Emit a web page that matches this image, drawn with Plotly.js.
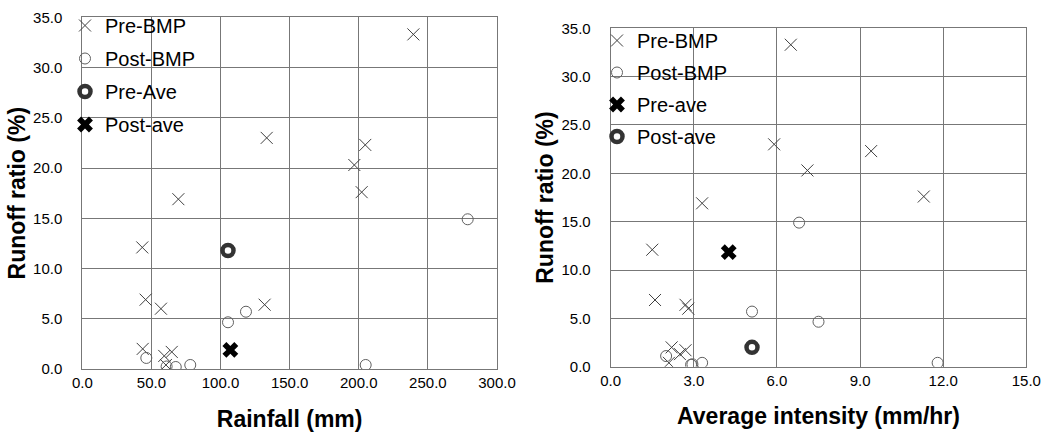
<!DOCTYPE html>
<html>
<head>
<meta charset="utf-8">
<script src="https://cdn.plot.ly/plotly-3.0.1.min.js"></script>
<style>
html,body{margin:0;padding:0;background:#fff;}
#chart{width:1043px;height:439px;}
</style>
</head>
<body>
<div id="chart"></div>
<script>
// ---- data ----
// Pre-BMP events
var rainPre    = [239.5, 133.4, 204.7, 196.8, 202.1, 69.5, 43.4, 45.8, 131.9, 56.9, 43.7, 64.7, 59.3, 60.5];
var intensPre  = [6.5, 5.9, 9.4, 7.1, 11.3, 3.3, 1.5, 1.6, 2.7, 2.8, 2.2, 2.7, 2.5, 2.1];
var ratioPre   = [33.3, 23.0, 22.3, 20.3, 17.6, 16.9, 12.1, 6.9, 6.4, 6.0, 2.0, 1.7, 1.3, 0.4];
// Post-BMP events
var rainPost   = [46.3, 61.0, 67.6, 78.1, 105.4, 118.4, 278.8, 205.0];
var intensPost = [2.0, 2.95, 2.9, 3.3, 7.5, 5.1, 6.8, 11.8];
var ratioPost  = [1.1, 0.25, 0.2, 0.4, 4.65, 5.7, 14.9, 0.4];
// Averages
var rainPreAve = [105.4],  ratioPreAveL = [11.8];
var rainPostAve = [107.1], ratioPostAveL = [1.9];
var intensPreAve = [4.26], ratioPreAveR = [11.85];
var intensPostAve = [5.1], ratioPostAveR = [2.0];
// axis ticks
var xTicksL = [0, 50, 100, 150, 200, 250, 300];
var xTicksR = [0, 3, 6, 9, 12, 15];
var yTicks  = [0, 5, 10, 15, 20, 25, 30, 35];

var W = 1043, H = 439;
function fx(p){ return p / W; }
function fy(p){ return (H - p) / H; }

var crossM  = {symbol:'x-thin-open', size:12, color:'#404040', line:{width:1, color:'#404040'}};
var circM   = {symbol:'circle-open', size:11, color:'#606060', line:{width:1, color:'#606060'}};
var ringM   = {symbol:'circle-open', size:11, color:'#333333', line:{width:4.5, color:'#333333'}};
var boldXM  = {symbol:'x', size:14, color:'#000000', line:{width:0}};

var traces = [
  {x: rainPre, y: ratioPre, type:'scatter', mode:'markers', name:'Pre-BMP', marker: crossM, xaxis:'x', yaxis:'y', legend:'legend', legendgroup:'a1'},
  {x: rainPost, y: ratioPost, type:'scatter', mode:'markers', name:'Post-BMP', marker: circM, xaxis:'x', yaxis:'y', legend:'legend', legendgroup:'a2'},
  {x: rainPreAve, y: ratioPreAveL, type:'scatter', mode:'markers', name:'Pre-Ave', marker: ringM, xaxis:'x', yaxis:'y', legend:'legend', legendgroup:'a3'},
  {x: rainPostAve, y: ratioPostAveL, type:'scatter', mode:'markers', name:'Post-ave', marker: boldXM, xaxis:'x', yaxis:'y', legend:'legend', legendgroup:'a4'},

  {x: intensPre, y: ratioPre, type:'scatter', mode:'markers', name:'Pre-BMP', marker: crossM, xaxis:'x2', yaxis:'y2', legend:'legend2', legendgroup:'b1'},
  {x: intensPost, y: ratioPost, type:'scatter', mode:'markers', name:'Post-BMP', marker: circM, xaxis:'x2', yaxis:'y2', legend:'legend2', legendgroup:'b2'},
  {x: intensPreAve, y: ratioPreAveR, type:'scatter', mode:'markers', name:'Pre-ave', marker: boldXM, xaxis:'x2', yaxis:'y2', legend:'legend2', legendgroup:'b3'},
  {x: intensPostAve, y: ratioPostAveR, type:'scatter', mode:'markers', name:'Post-ave', marker: ringM, xaxis:'x2', yaxis:'y2', legend:'legend2', legendgroup:'b4'}
];

var tickFont = {family:'"Liberation Sans", Arial, sans-serif', size:15, color:'#000'};
var titleFont = {family:'"Liberation Sans", Arial, sans-serif', size:23, color:'#000', weight:'bold'};
var gridC = '#777777';

function xAxis(domain, rng, ticks, title, anchor){
  return {domain: domain, range: rng, tickvals: ticks, ticktext: ticks.map(function(v){return v.toFixed(1);}),
    showgrid:true, gridcolor:gridC, gridwidth:1, zeroline:false, showline:true, linecolor:gridC, linewidth:1, mirror:true,
    ticks:'', tickfont: tickFont, anchor: anchor, automargin:false,
    title:{text:title, font:titleFont, standoff:20}};
}
function yAxis(domain, title, anchor){
  return {domain: domain, range:[0,35], tickvals: yTicks, ticktext: yTicks.map(function(v){return v.toFixed(1);}),
    showgrid:true, gridcolor:gridC, gridwidth:1, zeroline:false, showline:true, linecolor:gridC, linewidth:1, mirror:true,
    ticks:'outside', ticklen:16, tickcolor:'rgba(0,0,0,0)', tickfont: tickFont, anchor: anchor, automargin:false,
    title:{text:title, font:titleFont, standoff:1}};
}

var legFont = {family:'"Liberation Sans", Arial, sans-serif', size:20, color:'#000'};

var layout = {
  width: W, height: H,
  margin:{l:0, r:0, t:0, b:0},
  paper_bgcolor:'#fff', plot_bgcolor:'#fff',
  showlegend:true,
  xaxis:  xAxis([fx(82.3), fx(497)], [0,300], xTicksL, 'Rainfall (mm)', 'y'),
  yaxis:  yAxis([fy(369), fy(17.3)], 'Runoff ratio (%)', 'x'),
  xaxis2: xAxis([fx(610.7), fx(1026.3)], [0,15], xTicksR, 'Average intensity (mm/hr)', 'y2'),
  yaxis2: yAxis([fy(366.7), fy(28.3)], 'Runoff ratio (%)', 'x2'),
  legend: {x: fx(65), y: fy(6), xanchor:'left', yanchor:'top', bgcolor:'rgba(0,0,0,0)', font: legFont,
           traceorder:'grouped', tracegroupgap:4, itemwidth:30},
  legend2:{x: fx(597), y: fy(21), xanchor:'left', yanchor:'top', bgcolor:'rgba(0,0,0,0)', font: legFont,
           traceorder:'grouped', tracegroupgap:3, itemwidth:30}
};

Plotly.newPlot('chart', traces, layout, {displayModeBar:false, staticPlot:true});
</script>
</body>
</html>
